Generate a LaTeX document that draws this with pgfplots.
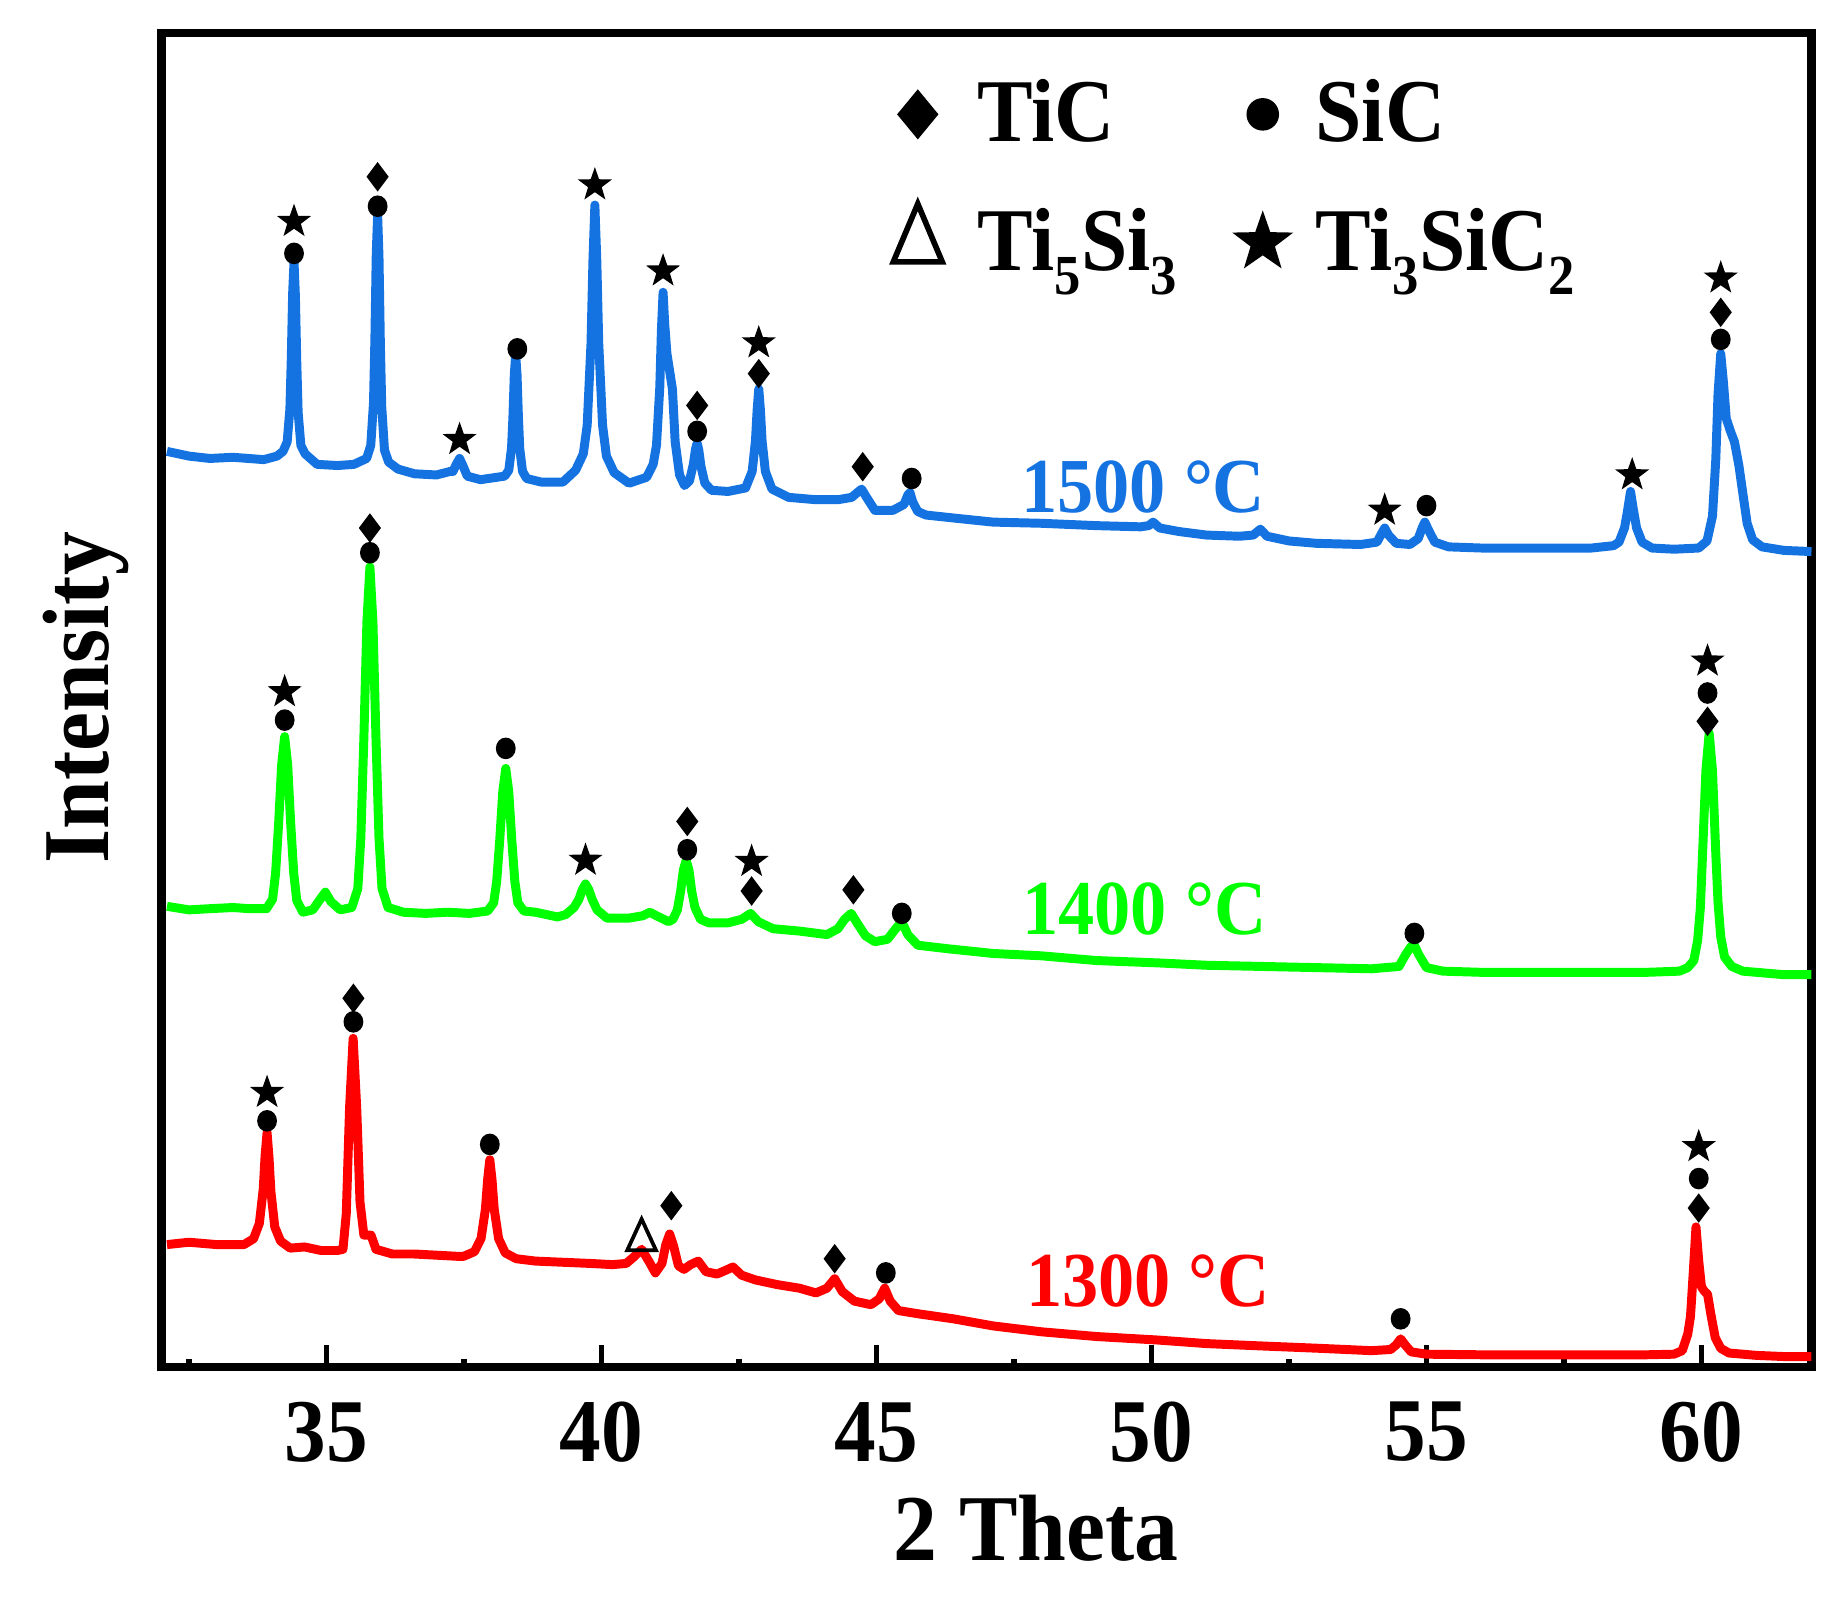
\documentclass[border=0pt]{standalone}
\usepackage{fontspec}
\setmainfont{Liberation Serif}[FakeStretch=0.93]
\usepackage{pgfplots}
\pgfplotsset{compat=1.18}
\definecolor{xblue}{RGB}{20,115,225}
\definecolor{xgreen}{RGB}{0,255,0}
\definecolor{xred}{RGB}{255,0,0}
\newcommand\sub[1]{\raisebox{-5.2pt}{\fontsize{12}{12}\selectfont #1}}
\pgfdeclareplotmark{fstar}{%
  \pgfpathmoveto{\pgfpointpolar{90}{\pgfplotmarksize}}%
  \pgfpathlineto{\pgfpointpolar{126}{0.4\pgfplotmarksize}}%
  \pgfpathlineto{\pgfpointpolar{162}{\pgfplotmarksize}}%
  \pgfpathlineto{\pgfpointpolar{198}{0.4\pgfplotmarksize}}%
  \pgfpathlineto{\pgfpointpolar{234}{\pgfplotmarksize}}%
  \pgfpathlineto{\pgfpointpolar{270}{0.4\pgfplotmarksize}}%
  \pgfpathlineto{\pgfpointpolar{306}{\pgfplotmarksize}}%
  \pgfpathlineto{\pgfpointpolar{342}{0.4\pgfplotmarksize}}%
  \pgfpathlineto{\pgfpointpolar{18}{\pgfplotmarksize}}%
  \pgfpathlineto{\pgfpointpolar{54}{0.4\pgfplotmarksize}}%
  \pgfpathclose
  \pgfusepathqfill
}
\begin{document}
\begin{tikzpicture}
\begin{axis}[
  scale only axis, width=350pt, height=283pt,
  xmin=32, xmax=62, ymin=0, ymax=1132,
  xtick={35,40,45,50,55,60},
  minor xtick={32.5,37.5,42.5,47.5,52.5,57.5},
  ytick=\empty,
  xtick pos=left,
  tick align=inside,
  major tick length=4.7pt, minor tick length=1.8pt,
  every tick/.style={black, line width=1.2pt},
  axis line style={line width=1.8pt},
  /pgf/number format/assume math mode=true,
  xticklabel style={font=\fontsize{19}{19}\selectfont\bfseries, yshift=-3.9pt},
  xlabel={2 Theta},
  xlabel style={font=\fontsize{20}{20}\selectfont\bfseries, at={(axis description cs:0.53,-0.1449)}, anchor=base},
  ylabel={Intensity},
  ylabel style={font=\fontsize{20}{20}\selectfont\bfseries, at={(axis description cs:-0.046,0.5018)}, anchor=center},
  legend columns=2,
  legend cell align=left,
  legend style={draw=none, fill=none, font=\fontsize{19}{19}\selectfont\bfseries,
    at={(axis cs:51.59,1008.6)}, anchor=center, row sep=8.5pt,
    /tikz/column 1/.style={column sep=5.5pt},
    /tikz/column 2/.style={column sep=9.75pt},
    /tikz/column 3/.style={column sep=2.75pt}},
  clip=false,
]
% legend
\addlegendimage{only marks, black, mark=diamond*, mark size=5pt, mark options={xscale=1.1}}
\addlegendentry{TiC}
\addlegendimage{only marks, black, mark=*, mark size=3.25pt}
\addlegendentry{SiC}
\addlegendimage{only marks, black, mark=triangle, mark size=8.2pt, mark options={xscale=0.73, line width=1.2pt}}
\addlegendentry{Ti\sub{5}Si\sub{3}}
\addlegendimage{only marks, black, mark=fstar, mark size=6.8pt}
\addlegendentry{Ti\sub{3}SiC\sub{2}}

% 1300 C
\addplot[forget plot, xred, line width=1.9pt, line join=round, mark=none] coordinates {
(32.10,104)(32.5,106)(33.0,104)(33.50,104)(33.675,109)(33.78,122)(33.85,151)(33.885,180)(33.92,199)(33.955,178)(33.99,149)(34.06,119)(34.165,107)(34.34,101)
(34.6,102)(34.9,99)(35.2,99)(35.3,100)(35.36,130)(35.42,220)(35.485,279)(35.55,220)(35.61,140)(35.68,112)(35.81,112)(35.9,100)(36.2,96)
(36.6,96)(37.0,95)(37.4,94)(37.49,94)(37.69,98)(37.81,109)(37.89,134)(37.93,159)(37.97,176)(38.01,159)(38.05,134)(38.13,109)(38.25,97)(38.45,92)
(38.8,90)(39.3,89)(39.8,88)(40.2,87)(40.45,88)(40.6,94)(40.73,100)(40.86,90)(40.98,80)(41.1,88)(41.17,104)(41.24,113)(41.31,103)(41.4,86)(41.5,83)(41.62,87)(41.76,90)(41.9,81)(42.1,79)(42.25,82)(42.39,85)(42.55,78)(42.8,74)(43.2,70)(43.6,67)(43.9,63)(44.1,67)(44.24,75)(44.38,64)(44.6,56)(44.9,53)(45.05,58)(45.15,67)(45.25,56)(45.4,48)(45.8,45)(46.4,41)(47.12,35)(48,30)(49,26)(50.12,23)(51,20)(52,18)(53.05,16)(54.0,14)(54.35,15)(54.45,19)(54.53,24)(54.61,19)(54.72,13)(55.0,11)(56,10.5)(57,10.5)(58,10.5)(59,10.5)(59.5,11)
(59.65,14)(59.75,28)(59.8,43)(59.85,80)(59.9,119)(59.95,90)(60.0,68)(60.06,64)(60.11,62)(60.17,45)(60.25,25)(60.35,16)(60.5,12)(61,10)(61.5,9)(62,9)
};
% 1400 C
\addplot[forget plot, xgreen, line width=1.9pt, line join=round, mark=none] coordinates {
(32.10,391)(32.5,388)(32.88,389)(33.3,390)(33.6,389)(33.91,389)(34.02,397)(34.075,419)(34.13,461)(34.185,511)(34.24,535)(34.295,511)(34.35,461)(34.405,419)(34.46,396)(34.57,386)
(34.75,388)(34.9,398)(34.98,403)(35.08,395)(35.25,388)(35.46,390)(35.57,406)(35.625,449)(35.68,534)(35.735,632)(35.79,679)(35.845,632)(35.9,534)(35.955,449)(36.01,406)(36.12,390)
(36.4,386)(36.8,385)(37.2,386)(37.6,385)(37.93,387)(38.04,394)(38.095,412)(38.15,447)(38.205,488)(38.26,508)(38.315,488)(38.37,447)(38.425,412)(38.48,394)(38.59,387)
(38.8,386)(39.2,382)(39.35,384)(39.5,390)(39.59,397)(39.65,405)(39.71,410)(39.77,405)(39.83,397)(39.92,388)(40.1,381)(40.5,381)(40.75,383)(40.88,386)(41.0,383)(41.22,378)
(41.3,380)(41.38,388)(41.44,404)(41.49,422)(41.54,430)(41.59,422)(41.64,404)(41.7,390)(41.8,380)(41.95,377)(42.3,377)(42.55,380)(42.71,385)(42.85,378)(43.12,372)(43.6,370)(44.1,367)(44.3,372)(44.42,380)(44.54,385)(44.66,376)(44.8,366)(44.97,361)(45.2,363)(45.35,372)(45.46,378)(45.57,367)(45.75,358)(46.3,355)(47.12,351)(48,349)(49,345)(50.12,343)(51,341)(52,340)(53,339)(54,338)(54.5,340)(54.62,350)(54.72,357)(54.78,358)(54.86,350)(55.0,339)(55.3,336)(56,335)(57,335)(58,335)(59,335)
(59.6,336)(59.75,339)(59.86,345)(59.93,362)(59.98,390)(60.02,436)(60.08,506)(60.14,538)(60.2,506)(60.26,436)(60.3,395)(60.35,365)(60.42,348)(60.55,340)(60.75,336)(61.5,333)(62,333)
};
% 1500 C
\addplot[forget plot, xblue, line width=1.9pt, line join=round, mark=none] coordinates {
(32.10,777)(32.5,773)(32.88,771)(33.3,772)(33.86,770)(34.1,773)(34.21,777)(34.285,785)(34.335,813)(34.36,855)(34.385,911)(34.41,938)(34.435,909)(34.46,853)(34.485,810)(34.535,782)(34.61,775)(34.83,766)(35.2,765)(35.5,766)
(35.73,771)(35.805,782)(35.855,818)(35.88,871)(35.905,944)(35.93,978)(35.955,942)(35.98,868)(36.005,815)(36.055,778)(36.13,768)(36.3,762)(36.6,758)(37.0,757)(37.25,760)
(37.3,760)(37.36,766)(37.42,771)(37.48,765)(37.56,756)(37.8,753)(38.24,756)(38.315,761)(38.365,780)(38.39,806)(38.415,842)(38.44,859)(38.465,842)(38.49,806)(38.515,779)(38.565,760)(38.64,754)(38.9,751)(39.3,751)
(39.53,761)(39.67,775)(39.74,799)(39.81,869)(39.845,939)(39.88,986)(39.915,939)(39.95,869)(40.02,799)(40.09,773)(40.23,759)(40.5,750)
(40.82,755)(40.94,766)(41.0,782)(41.06,831)(41.09,880)(41.12,912)(41.15,885)(41.19,860)(41.24,845)(41.29,830)(41.34,785)(41.42,757)(41.51,748)
(41.6,752)(41.67,766)(41.71,779)(41.74,784)(41.77,778)(41.81,764)(41.88,750)(42.0,744)(42.3,743)(42.62,746)(42.74,760)(42.8,786)(42.83,812)(42.86,830)(42.89,812)(42.92,786)(42.98,760)(43.1,745)(43.4,738)(43.9,736)(44.3,736)(44.55,738)(44.65,742)(44.73,745)(44.82,738)(44.97,727)(45.3,727)(45.5,732)(45.57,740)(45.61,742)(45.66,734)(45.75,726)(45.9,723)(46.5,720)(47.12,717)(48,716)(49,714)(49.8,713)(49.95,714)(50.03,717)(50.15,712)(50.5,709)(51.0,706)(51.6,705)(51.85,706)(51.98,711)(52.1,705)(52.5,701)(53.0,699)(53.8,698)(54.1,700)(54.18,707)(54.24,712)(54.31,706)(54.45,699)(54.7,698)(54.85,703)(54.92,712)(54.97,717)(55.03,711)(55.15,700)(55.4,696)(56,695)(57,695)(58,695)(58.4,697)
(58.5,700)(58.6,712)(58.65,725)(58.71,743)(58.76,728)(58.82,712)(58.92,700)(59.1,695)(59.5,694)(59.95,695)(60.1,701)(60.2,722)(60.26,770)(60.3,825)(60.35,860)(60.4,835)(60.45,805)(60.52,795)(60.6,785)(60.68,765)(60.75,742)(60.83,716)(60.93,702)(61.1,696)(61.5,693)(62,692)
};
% phase marks: Ti3SiC2 (stars)
\addplot[forget plot, only marks, black, mark=fstar, mark size=3.8pt] coordinates {
(33.92,233)(59.95,187)
(34.24,573)(39.71,430)(42.73,429)(60.11,599)
(34.41,972)(37.42,787)(39.88,1003)(41.12,930)(42.86,869)(54.24,727)(58.74,757)(60.35,924)
};
% SiC (dots)
\addplot[forget plot, only marks, black, mark=*, mark size=1.9pt, mark options={yscale=1.1}] coordinates {
(33.92,209)(35.49,293)(37.97,189)(45.17,80)(54.53,41)(59.95,160)
(34.24,549)(35.79,691)(38.26,525)(41.56,439)(45.46,385)(54.78,368)(60.11,572)
(34.41,945)(35.93,985)(38.47,864)(41.74,794)(45.64,754)(55.0,731)(60.35,872)
};
% TiC (diamonds)
\addplot[forget plot, only marks, black, mark=diamond*, mark size=2.8pt] coordinates {
(35.49,313)(41.27,137)(44.24,92)(59.95,135)
(35.79,712)(41.56,463)(42.73,404)(44.58,405)(60.11,548)
(35.93,1010)(41.74,816)(42.86,843)(44.75,764)(60.35,895)
};
% Ti5Si3 (triangle)
\addplot[forget plot, only marks, black, mark=triangle, mark size=4.4pt, mark options={xscale=0.8, line width=0.8pt}] coordinates {
(40.73,108)
};
\node[xblue, font=\fontsize{16.5}{16.5}\selectfont\bfseries, anchor=center] at (axis cs:49.85,747) {1500 °C};
\node[xgreen, font=\fontsize{16.5}{16.5}\selectfont\bfseries, anchor=center] at (axis cs:49.87,389) {1400 °C};
\node[xred, font=\fontsize{16.5}{16.5}\selectfont\bfseries, anchor=center] at (axis cs:49.94,73) {1300 °C};
\end{axis}
\path ([shift={(-34.25pt,-50pt)}]current axis.south west) rectangle ([shift={(7.75pt,7pt)}]current axis.north east);
\end{tikzpicture}
\end{document}
